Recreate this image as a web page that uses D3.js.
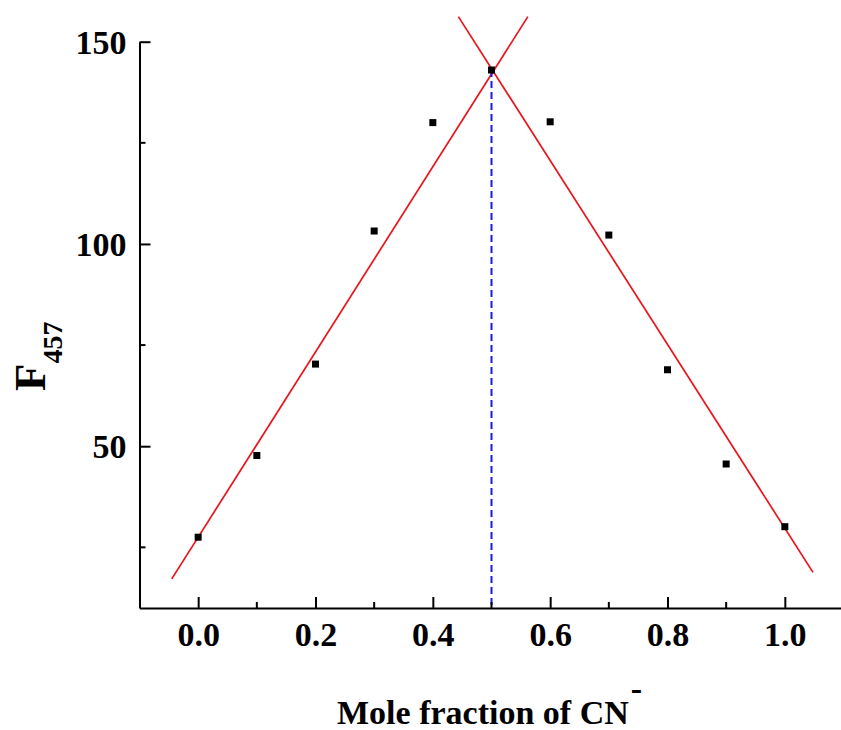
<!DOCTYPE html>
<html>
<head>
<meta charset="utf-8">
<script src="https://cdn.jsdelivr.net/npm/d3@7"></script>
<style>
  html, body { margin: 0; padding: 0; background: #fff; }
  svg { display: block; }
  text { font-family: "Liberation Serif", "Times New Roman", serif; font-weight: bold; fill: #000; }
</style>
</head>
<body>
<script>
// ---- data ----
const moleFraction = [0.0, 0.1, 0.2, 0.3, 0.4, 0.5, 0.6, 0.7, 0.8, 0.9, 1.0];
const f457 = [27.5, 47.7, 70.3, 103.2, 130.0, 143.0, 130.2, 102.2, 68.9, 45.6, 30.1];
// linear fits (end points in data units)
const leftFitX = [-0.045, 0.562];
const leftFitY = [17.2, 156.2];
const rightFitX = [0.4435, 1.048];
const rightFitY = [156.2, 18.8];
// stoichiometry marker
const dropX = [0.5];
const dropTop = [143.0];
const xTicks = [0.0, 0.2, 0.4, 0.6, 0.8, 1.0];
const xMinor = [0.1, 0.3, 0.5, 0.7, 0.9];
const yTicks = [50, 100, 150];
const yMinor = [25, 75, 125];
const xDomain = [-0.1, 1.1];
const yDomain = [10, 150];

// ---- chart ----
const W = 841, H = 730;
const svg = d3.select("body").append("svg").attr("width", W).attr("height", H);

const x = d3.scaleLinear().domain(xDomain).range([139.5, 843.5]);
const y = d3.scaleLinear().domain(yDomain).range([608, 41.7]);

// fit lines
const line = d3.line().x(d => x(d[0])).y(d => y(d[1]));
svg.append("path").datum(d3.zip(leftFitX, leftFitY))
  .attr("d", line).attr("fill", "none").attr("stroke", "#e8141b").attr("stroke-width", 1.7);
svg.append("path").datum(d3.zip(rightFitX, rightFitY))
  .attr("d", line).attr("fill", "none").attr("stroke", "#e8141b").attr("stroke-width", 1.7);

// dashed drop line
svg.selectAll(".drop").data(dropX).enter().append("line")
  .attr("x1", d => x(d)).attr("x2", d => x(d))
  .attr("y1", (d, i) => y(dropTop[i])).attr("y2", y(yDomain[0]))
  .attr("stroke", "#1a1ae6").attr("stroke-width", 2).attr("stroke-dasharray", "7,4");

// points
const sz = 7;
svg.selectAll(".pt").data(moleFraction).enter().append("rect")
  .attr("x", d => x(d) - sz / 2)
  .attr("y", (d, i) => y(f457[i]) - sz / 2)
  .attr("width", sz).attr("height", sz).attr("fill", "#000");

// axes
const xAxis = svg.append("g").attr("transform", `translate(0,${y(yDomain[0])})`);
xAxis.call(d3.axisBottom(x).tickValues(xTicks).tickSize(-11).tickFormat(d3.format(".1f")).tickSizeOuter(0));
xAxis.append("g").selectAll("line").data(xMinor).enter().append("line")
  .attr("x1", d => x(d)).attr("x2", d => x(d)).attr("y1", 0).attr("y2", -6)
  .attr("stroke", "#000").attr("stroke-width", 2);
xAxis.selectAll(".tick text").attr("dy", "0").attr("y", 38).style("font-size", "34px");

const yAxis = svg.append("g").attr("transform", `translate(${x(xDomain[0])},0)`);
yAxis.call(d3.axisLeft(y).tickValues(yTicks).tickSize(-11).tickFormat(d3.format("d")).tickSizeOuter(0));
yAxis.append("g").selectAll("line").data(yMinor).enter().append("line")
  .attr("x1", 0).attr("x2", 6).attr("y1", d => y(d)).attr("y2", d => y(d))
  .attr("stroke", "#000").attr("stroke-width", 2);
yAxis.selectAll(".tick text").attr("x", -13).attr("dy", "0.34em").style("font-size", "34px");

svg.selectAll(".domain").attr("stroke", "#000").attr("stroke-width", 2);
svg.selectAll(".tick line").attr("stroke", "#000").attr("stroke-width", 2);
svg.selectAll(".tick text").attr("font-family", null).attr("fill", "#000");

// x axis title
const xt = svg.append("text").attr("x", 337).attr("y", 724).style("font-size", "34px");
xt.append("tspan").text("Mole fraction of CN");
xt.append("tspan").attr("dy", -24).attr("dx", 2).style("font-size", "34px").text("-");

// y axis title
const yt = svg.append("text").attr("transform", "translate(45,391) rotate(-90)").style("font-size", "45px");
yt.append("tspan").text("F");
yt.append("tspan").attr("dy", 17).style("font-size", "28px").text("457");
</script>
</body>
</html>
